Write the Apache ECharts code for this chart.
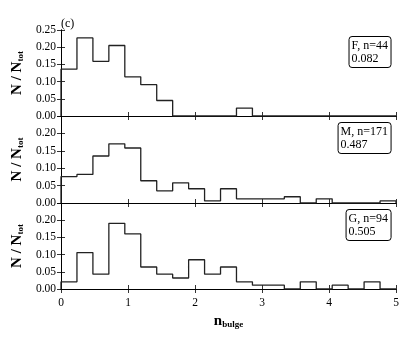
<!DOCTYPE html>
<html><head><meta charset="utf-8">
<script src="https://cdn.jsdelivr.net/npm/echarts@6/dist/echarts.min.js"></script>
<style>html,body{margin:0;padding:0;background:#fff}#c{width:416px;height:340px}</style>
</head><body><div id="c"></div>
<script>
// Histogram bins: 21 equal bins over [0, 5]
const nBins = 21;
const xMin = 0, xMax = 5;
const xTicks = [0, 1, 2, 3, 4, 5];
const yTicks = [0.00, 0.05, 0.10, 0.15, 0.20, 0.25];
const panelNames = ['F, n=44', 'M, n=171', 'G, n=94'];
const panelFracs = ['0.082', '0.487', '0.505'];
// N / N_tot per bin
const fracF = [0.136,0.227,0.159,0.205,0.114,0.091,0.045,0,0,0,0,0.023,0,0,0,0,0,0,0,0,0];
const fracM = [0.076,0.082,0.135,0.170,0.158,0.064,0.035,0.058,0.041,0.006,0.041,0.012,0.012,0.012,0.018,0,0.012,0,0,0,0.006];
const fracG = [0.021,0.106,0.043,0.191,0.160,0.064,0.043,0.032,0.085,0.043,0.064,0.021,0.011,0.011,0,0.021,0,0.011,0,0.021,0];
const series3 = [fracF, fracM, fracG];

const edges = [];
for (let k = 0; k <= nBins; k++) edges.push(xMin + (xMax - xMin) * k / nBins);

function stepData(v) {
  const d = [[edges[0], 0]];
  for (let k = 0; k < v.length; k++) d.push([edges[k], v[k]]);
  d.push([edges[v.length], v[v.length - 1]]);
  d.push([edges[v.length], 0]);
  return d;
}

const FONT = 'Liberation Serif';
const grids = [
  {left: 61, right: 20, top: 30, height: 86},
  {left: 61, right: 20, top: 116, height: 87},
  {left: 61, right: 20, top: 203, height: 86}
];
const axisLine = {show: true, lineStyle: {color: '#000', width: 1}};
const tick = {show: true, inside: true, length: 4, lineStyle: {color: '#000', width: 0.8}};
const xAxes = [], yAxes = [], series = [], titles = [];
const yNameRich = {
  a: {fontFamily: FONT, fontSize: 15, fontWeight: 'bold', color: '#000'},
  b: {fontFamily: FONT, fontSize: 9, fontWeight: 'bold', color: '#000', padding: [7, 0, 0, 0]}
};
grids.forEach((g, i) => {
  const last = i === 2;
  xAxes.push({
    gridIndex: i, type: 'value', min: xMin, max: xMax, interval: 1, position: 'bottom',
    axisLine, axisTick: tick, splitLine: {show: false},
    axisLabel: {show: last, color: '#000', fontFamily: FONT, fontSize: 11.5, margin: 8},
    name: last ? '{a|n}{b|bulge}' : '', nameLocation: 'middle', nameGap: 24,
    nameTextStyle: {rich: {
      a: {fontFamily: FONT, fontSize: 15, fontWeight: 'bold', color: '#000'},
      b: {fontFamily: FONT, fontSize: 9, fontWeight: 'bold', color: '#000', padding: [7, 0, 0, 0]}
    }}
  });
  xAxes.push({
    gridIndex: i, type: 'value', min: xMin, max: xMax, interval: 1, position: 'top',
    axisLine, axisTick: tick, splitLine: {show: false}, axisLabel: {show: false}
  });
  yAxes.push({
    gridIndex: i, type: 'value', min: 0, max: 0.25, interval: 0.05, position: 'left',
    axisLine, axisTick: tick, splitLine: {show: false},
    axisLabel: {color: '#000', fontFamily: FONT, fontSize: 11.5, margin: 5,
      formatter: v => (i > 0 && v > 0.24) ? '' : v.toFixed(2)},
    name: '{a|N / N}{b|tot}', nameLocation: 'middle', nameRotate: 90, nameGap: 33,
    nameTextStyle: {rich: yNameRich}
  });
  yAxes.push({
    gridIndex: i, type: 'value', min: 0, max: 0.25, interval: 0.05, position: 'right',
    axisLine, axisTick: tick, splitLine: {show: false}, axisLabel: {show: false}
  });
  series.push({
    type: 'line', xAxisIndex: 2 * i, yAxisIndex: 2 * i, step: 'end',
    data: stepData(series3[i]), showSymbol: false, symbol: 'none',
    lineStyle: {color: '#222', width: 1.3}, silent: true, animation: false
  });
});
const boxTops = [36, 122, 209];
panelNames.forEach((n, i) => {
  titles.push({
    text: n + '\n' + panelFracs[i], right: 25, top: boxTops[i],
    borderColor: '#000', borderWidth: 1, borderRadius: 3, padding: [3, 3, 3, 3],
    backgroundColor: '#fff',
    textStyle: {fontFamily: FONT, fontSize: 12, fontWeight: 'normal', color: '#000', lineHeight: 13}
  });
});
titles.push({text: '(c)', left: 61, top: 18, padding: 0,
  textStyle: {fontFamily: FONT, fontSize: 12, fontWeight: 'normal', color: '#000'}});

const chart = echarts.init(document.getElementById('c'), null, {renderer: 'canvas'});
chart.setOption({
  animation: false, backgroundColor: '#fff',
  title: titles, grid: grids, xAxis: xAxes, yAxis: yAxes, series
});
</script></body></html>
